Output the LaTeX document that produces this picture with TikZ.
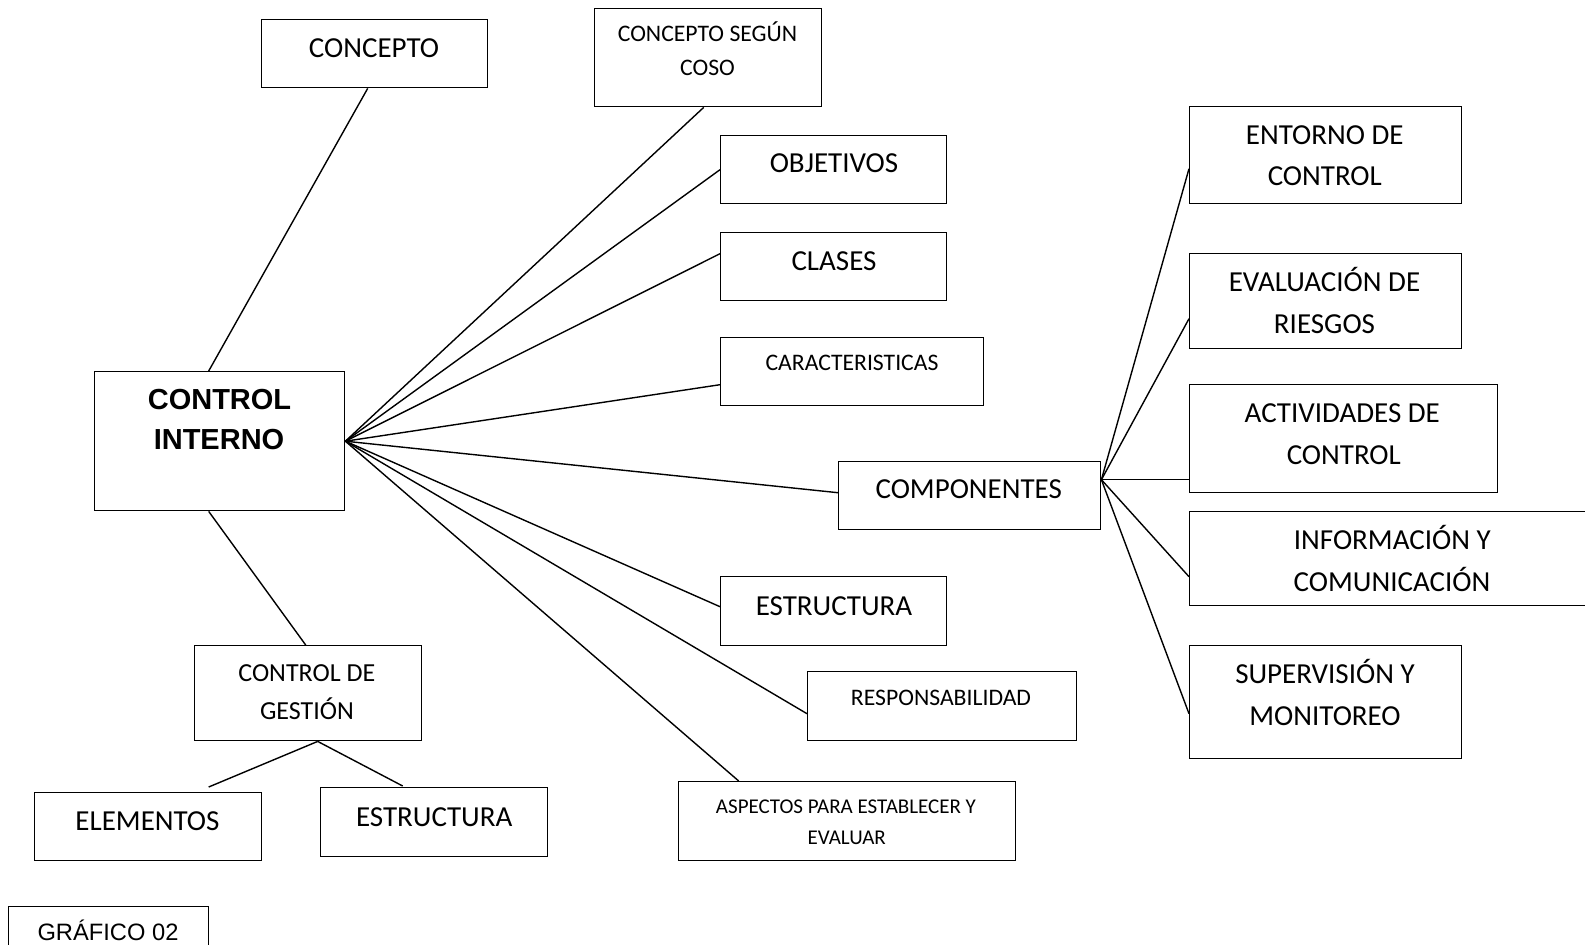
\documentclass[tikz,border=0pt]{standalone}
\usepackage{fontspec}
\newfontfamily\calib{Carlito}
\newfontfamily\libs{Liberation Sans}
\begin{document}
\begin{tikzpicture}[x=1pt,y=-1pt,
  bx/.style={draw, line width=1.4pt, anchor=north west, inner sep=0pt},
  txt/.style={font=\calib\fontsize{#1}{#1}\selectfont, anchor=base, inner sep=0pt},
  txtb/.style={font=\libs\bfseries\fontsize{#1}{#1}\selectfont, anchor=base, inner sep=0pt},
  txta/.style={font=\libs\fontsize{#1}{#1}\selectfont, anchor=base, inner sep=0pt},
  ln/.style={line width=1.4pt}]
\clip (0,0) rectangle (1585,945);
\fill[white] (0,0) rectangle (1585,945);
% boxes
\node[bx, minimum width=226pt, minimum height=68pt] (concept) at (261,19) {};
\node[bx, minimum width=227pt, minimum height=98pt] (coso) at (594,8) {};
\node[bx, minimum width=226pt, minimum height=68pt] (obj) at (720,135) {};
\node[bx, minimum width=226pt, minimum height=68pt] (clases) at (720,232) {};
\node[bx, minimum width=263pt, minimum height=68pt] (caract) at (720,337) {};
\node[bx, minimum width=250pt, minimum height=139pt] (ci) at (94,371) {};
\node[bx, minimum width=262pt, minimum height=68pt] (comp) at (838,461) {};
\node[bx, minimum width=272pt, minimum height=97pt] (entorno) at (1189,106) {};
\node[bx, minimum width=272pt, minimum height=95pt] (eval) at (1189,253) {};
\node[bx, minimum width=308pt, minimum height=108pt] (act) at (1189,384) {};
\node[bx, minimum width=421pt, minimum height=94pt] (info) at (1189,511) {};
\node[bx, minimum width=272pt, minimum height=113pt] (sup) at (1189,645) {};
\node[bx, minimum width=226pt, minimum height=69pt] (estr) at (720,576) {};
\node[bx, minimum width=269pt, minimum height=69pt] (resp) at (807,671) {};
\node[bx, minimum width=337pt, minimum height=79pt] (asp) at (678,781) {};
\node[bx, minimum width=227pt, minimum height=95pt] (cdg) at (194,645) {};
\node[bx, minimum width=227pt, minimum height=68pt] (elem) at (34,792) {};
\node[bx, minimum width=227pt, minimum height=69pt] (estl) at (320,787) {};
\node[bx, minimum width=200pt, minimum height=60pt] (graf) at (8,906) {};
% texts
\node[txt=29] (t-concept) at (374,57.3) {CONCEPTO};
\node[txt=23.7] (t-coso1) at (707.5,41.3) {CONCEPTO SEGÚN};
\node[txt=23.7] (t-coso2) at (707.5,75.3) {COSO};
\node[txt=29] (t-obj) at (834,172.5) {OBJETIVOS};
\node[txt=29] (t-clases) at (834,270) {CLASES};
\node[txt=23.7] (t-caract) at (852,370) {CARACTERISTICAS};
\node[txtb=29] (t-ci1) at (219.5,409.3) {CONTROL};
\node[txtb=29] (t-ci2) at (219,449.3) {INTERNO};
\node[txt=29] (t-comp) at (968.7,498.7) {COMPONENTES};
\node[txt=29] (t-ent1) at (1324.7,144.3) {ENTORNO DE};
\node[txt=29] (t-ent2) at (1324.8,185.7) {CONTROL};
\node[txt=29] (t-eval1) at (1324.5,291.7) {EVALUACIÓN DE};
\node[txt=29] (t-eval2) at (1324.5,333.3) {RIESGOS};
\node[txt=29] (t-act1) at (1342.3,422.3) {ACTIVIDADES DE};
\node[txt=29] (t-act2) at (1343.8,464.3) {CONTROL};
\node[txt=29] (t-info1) at (1392.3,549.7) {INFORMACIÓN Y};
\node[txt=29] (t-info2) at (1392,591.7) {COMUNICACIÓN};
\node[txt=29] (t-sup1) at (1325,683.7) {SUPERVISIÓN Y};
\node[txt=29] (t-sup2) at (1325,725.7) {MONITOREO};
\node[txt=29] (t-estr) at (834,615.7) {ESTRUCTURA};
\node[txt=23.7] (t-resp) at (941,705.7) {RESPONSABILIDAD};
\node[txt=21] (t-asp1) at (846,813.7) {ASPECTOS PARA ESTABLECER Y};
\node[txt=21] (t-asp2) at (846.7,844) {EVALUAR};
\node[txt=26] (t-cdg1) at (306.8,681.7) {CONTROL DE};
\node[txt=26] (t-cdg2) at (307,719) {GESTIÓN};
\node[txt=29] (t-elem) at (147.5,830) {ELEMENTOS};
\node[txt=29] (t-estl) at (434.2,826) {ESTRUCTURA};
\node[txta=23.7] (t-graf) at (108,940) {GRÁFICO 02};
% connectors
\coordinate (hub) at (ci.east);
\coordinate (hub2) at ([yshift=16pt]comp.east);
\coordinate (cdgj) at ([xshift=9.5pt]cdg.south);
\draw[ln] ([xshift=-7pt]concept.south) -- ([xshift=-11pt]ci.north);
\draw[ln] ([xshift=-11pt]ci.south) -- ([xshift=-2.5pt]cdg.north);
\draw[ln] (hub) -- ([xshift=-4.5pt]coso.south);
\draw[ln] (hub) -- (obj.west);
\draw[ln] (hub) -- ([yshift=13pt]clases.west);
\draw[ln] (hub) -- ([yshift=-13pt]caract.west);
\draw[ln] (hub) -- ([yshift=3pt]comp.west);
\draw[ln] (hub) -- ([yshift=4.5pt]estr.west);
\draw[ln] (hub) -- ([yshift=-7.5pt]resp.west);
\draw[ln] (hub) -- ([xshift=-108.5pt]asp.north);
\draw[ln] (cdgj) -- ([xshift=60.5pt,yshift=5pt]elem.north);
\draw[ln] (cdgj) -- ([xshift=-31.5pt,yshift=1pt]estl.north);
\draw[ln] (hub2) -- ([yshift=-13.5pt]entorno.west);
\draw[ln] (hub2) -- ([yshift=-17.5pt]eval.west);
\draw[ln] (hub2) -- ([yshift=-41pt]act.west);
\draw[ln] (hub2) -- ([yshift=-18pt]info.west);
\draw[ln] (hub2) -- ([yshift=-11.5pt]sup.west);
\end{tikzpicture}
\end{document}
